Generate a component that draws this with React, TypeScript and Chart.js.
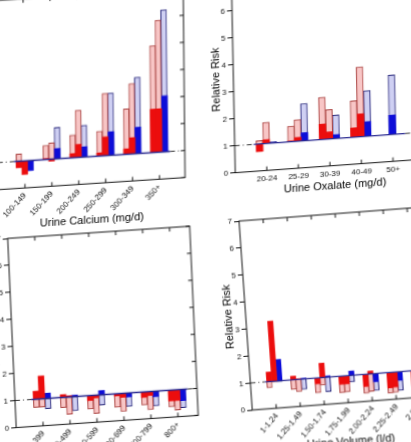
import React, { useEffect, useRef } from "react";
import { Chart, registerables } from "chart.js";

Chart.register(...registerables);
Chart.defaults.font.family = '"Liberation Sans", Arial, Helvetica, sans-serif';

// ---------- Urine calcium ----------
const calciumCats = ["100-149", "150-199", "200-249", "250-299", "300-349", "350+"];
const calciumLightA = [1.27, 1.52, 1.84, 1.92, 2.68, 4.95];
const calciumLightB = [0.9, 1.6, 2.74, 3.3, 3.6, 5.88];
const calciumLightC = [0.95, 2.16, 2.18, 3.3, 3.82, 6.25];
const calciumDarkA = [0.76, 1.03, 1.15, 1.12, 1.2, 2.6];
const calciumDarkB = [0.5, 0.93, 1.48, 1.69, 1.6, 2.6];
const calciumDarkC = [0.63, 1.38, 1.38, 1.87, 1.97, 3.07];

// ---------- Urine oxalate ----------
const oxalateCats = ["20-24", "25-29", "30-39", "40-49", "50+"];
const oxalateLightA = [1.12, 1.58, 2.56, 2.35, null];
const oxalateLightB = [1.78, 1.8, 2.09, 3.59, null];
const oxalateLightC = [1.05, 2.38, 1.87, 2.69, 3.2];
const oxalateDarkA = [0.72, 1.03, 1.57, 1.35, null];
const oxalateDarkB = [1.14, 1.14, 1.26, 1.85, null];
const oxalateDarkC = [1.02, 1.3, 1.14, 1.54, 1.72];

// ---------- Urine citrate ----------
const citrateCats = ["300-399", "400-499", "500-599", "600-699", "700-799", "800+"];
const citrateLightA = [0.7, 0.62, 0.5, 0.5, 0.52, 0.38];
const citrateLightB = [0.7, 0.36, 0.32, 0.33, 0.33, 0.25];
const citrateLightC = [0.62, 0.48, 0.62, 0.5, 0.45, 0.32];
const citrateDarkA = [1.29, 1.1, 0.82, 0.92, 0.8, 0.6];
const citrateDarkB = [1.84, 1.04, 0.9, 0.85, 0.85, 0.6];
const citrateDarkC = [1.19, 1.05, 1.15, 0.85, 0.8, 0.58];

// ---------- Urine volume ----------
const volumeCats = ["1-1.24", "1.25-1.49", "1.50-1.74", "1.75-1.99", "2.00-2.24", "2.25-2.49", "2.50+"];
const volumeLightA = [0.77, 0.64, 0.45, 0.38, 0.3, 0.23, 0.25];
const volumeLightB = [0.97, 0.55, 0.72, 0.4, 0.35, 0.25, 0.28];
const volumeLightC = [0.97, 0.62, 0.47, 0.75, 0.37, 0.31, 0.33];
const volumeDarkA = [1.35, 1.13, 0.78, 0.7, 0.55, 0.43, 0.45];
const volumeDarkB = [3.22, 1.02, 1.53, 0.7, 1.1, 0.45, 0.5];
const volumeDarkC = [1.79, 1.03, 1.05, 1.16, 0.7, 0.68, 0.7];

const yTicks = [0, 1, 2, 3, 4, 5, 6, 7];

// styles
const PINK_FILL = "#f8c6c6";
const PINK_EDGE = "#a9403e";
const RED = "#ec0d0d";
const LBLUE_FILL = "#cfd0f3";
const BLUE_EDGE = "#232378";
const BLUE = "#0d0dd8";

const AXIS_W = 40;
const TOP_PAD = 15;
const PLOT_H = 189;
const RIGHT_PAD = 12;
const BOTTOM_PAD = 2;
const Y_TITLE_PAD = AXIS_W - 17 - 6.6;
const GROUP_FRACTION = 0.64;

const framePlugin = {
  id: "frame",
  afterDatasetsDraw(chart: any, _args: any, opts: any) {
    const { ctx, chartArea: ca } = chart;
    const xs = chart.scales.x;
    const ys = chart.scales.y;
    const n = opts.count;
    const y1 = ys.getPixelForValue(1);
    const xa = xs.getPixelForValue(1 - 0.4);
    const xb = xs.getPixelForValue(n + 0.4);
    ctx.save();
    ctx.strokeStyle = "#333";
    ctx.lineWidth = 1;
    ctx.setLineDash([5, 3, 1, 3]);
    ctx.beginPath();
    ctx.moveTo(ca.left, y1);
    ctx.lineTo(xa, y1);
    ctx.moveTo(xb, y1);
    ctx.lineTo(ca.right, y1);
    ctx.stroke();
    ctx.setLineDash([]);
    ctx.strokeStyle = "#28288f";
    ctx.lineWidth = 1.3;
    ctx.beginPath();
    ctx.moveTo(xa, y1);
    ctx.lineTo(xb, y1);
    ctx.stroke();
    ctx.strokeStyle = "#111";
    ctx.lineWidth = 1;
    ctx.strokeRect(ca.left, ca.top, ca.right - ca.left, ca.bottom - ca.top);
    ctx.beginPath();
    for (let i = 1; i <= n; i++) {
      const x = xs.getPixelForValue(i);
      ctx.moveTo(x, ca.bottom);
      ctx.lineTo(x, ca.bottom - 4);
      ctx.moveTo(x, ca.top);
      ctx.lineTo(x, ca.top + 4);
    }
    for (const v of yTicks) {
      const y = ys.getPixelForValue(v);
      ctx.moveTo(ca.right, y);
      ctx.lineTo(ca.right - 4, y);
    }
    ctx.stroke();
    ctx.restore();
  },
};

type Layout = {
  left: number;
  top: number;
  b: number;
  c: number;
  xMax: number;
  plotW: number;
  xAxisH: number;
  rot: number;
};

type Spec = {
  id: string;
  cats: string[];
  la: (number | null)[];
  lb: (number | null)[];
  lc: (number | null)[];
  da: (number | null)[];
  db: (number | null)[];
  dc: (number | null)[];
  xTitle: string;
  layout: Layout;
};

const panels: Spec[] = [
  {
    id: "ca", cats: calciumCats,
    la: calciumLightA, lb: calciumLightB, lc: calciumLightC,
    da: calciumDarkA, db: calciumDarkB, dc: calciumDarkC,
    xTitle: "Urine Calcium (mg/d)",
    layout: { left: -44, top: -12.2, b: -0.065, c: 0.01, xMax: 6.95, plotW: 187, xAxisH: 43.6, rot: 45 },
  },
  {
    id: "ox", cats: oxalateCats,
    la: oxalateLightA, lb: oxalateLightB, lc: oxalateLightC,
    da: oxalateDarkA, db: oxalateDarkB, dc: oxalateDarkC,
    xTitle: "Urine Oxalate (mg/d)",
    layout: { left: 190.5, top: -28.1, b: -0.072, c: 0.02, xMax: 6.3, plotW: 198.5, xAxisH: 27.4, rot: 0 },
  },
  {
    id: "ci", cats: citrateCats,
    la: citrateLightA, lb: citrateLightB, lc: citrateLightC,
    da: citrateDarkA, db: citrateDarkB, dc: citrateDarkC,
    xTitle: "Urine Citrate (mg/d)",
    layout: { left: -33.3, top: 225.7, b: -0.067, c: 0.045, xMax: 6.75, plotW: 182, xAxisH: 45.6, rot: 45 },
  },
  {
    id: "vo", cats: volumeCats,
    la: volumeLightA, lb: volumeLightB, lc: volumeLightC,
    da: volumeDarkA, db: volumeDarkB, dc: volumeDarkC,
    xTitle: "Urine Volume (l/d)",
    layout: { left: 197.6, top: 209.3, b: -0.076, c: 0.07, xMax: 8, plotW: 192, xAxisH: 45.8, rot: 45 },
  },
];

function makeDataset(label: string, vals: (number | null)[], stack: string, bg: string, edge: string, bw: number, thick: number) {
  return {
    label,
    stack,
    data: vals.map((v, i) => ({ x: i + 1, y: v == null ? null : [1, v] })),
    backgroundColor: bg,
    borderColor: edge,
    borderWidth: bw,
    borderSkipped: false,
    barThickness: thick,
    skipNull: true,
  };
}

function Panel({ spec }: { spec: Spec }) {
  const ref = useRef<HTMLCanvasElement | null>(null);
  const L = spec.layout;
  const W = AXIS_W + L.plotW + RIGHT_PAD;
  const H = TOP_PAD + PLOT_H + L.xAxisH + BOTTOM_PAD;

  useEffect(() => {
    if (!ref.current) return;
    const spacing = L.plotW / L.xMax;
    const thick = (spacing * GROUP_FRACTION) / 3;
    const cats = spec.cats;
    // Chart.js paints the first dataset on top, so the dark series come first.
    const chart = new Chart(ref.current, {
      type: "bar",
      data: {
        datasets: [
          makeDataset("A", spec.da, "A", RED, RED, 0, thick),
          makeDataset("B", spec.db, "B", RED, RED, 0, thick),
          makeDataset("C", spec.dc, "C", BLUE, BLUE, 0, thick),
          makeDataset("A light", spec.la, "A", PINK_FILL, PINK_EDGE, 1, thick),
          makeDataset("B light", spec.lb, "B", PINK_FILL, PINK_EDGE, 1, thick),
          makeDataset("C light", spec.lc, "C", LBLUE_FILL, BLUE_EDGE, 1, thick),
        ],
      } as any,
      options: {
        responsive: false,
        animation: false,
        devicePixelRatio: 1,
        layout: { padding: { left: Y_TITLE_PAD, top: TOP_PAD, right: RIGHT_PAD, bottom: BOTTOM_PAD } },
        plugins: {
          legend: { display: false },
          tooltip: { enabled: false },
          frame: { count: cats.length },
        } as any,
        scales: {
          x: {
            type: "linear",
            min: 0,
            max: L.xMax,
            offset: false,
            ticks: {
              stepSize: 1,
              includeBounds: false,
              autoSkip: false,
              maxRotation: L.rot,
              minRotation: L.rot,
              font: { size: 8 },
              color: "#111",
              padding: 3,
              callback: (v: any) => (Number.isInteger(v) && v >= 1 && v <= cats.length ? cats[v - 1] : ""),
            },
            grid: { display: false, drawTicks: false },
            border: { display: false },
            title: { display: true, text: spec.xTitle, font: { size: 11 }, color: "#000", padding: 0 },
            afterFit: (s: any) => {
              s.height = L.xAxisH;
            },
          },
          y: {
            min: 0,
            max: 7,
            stacked: false,
            ticks: { stepSize: 1, font: { size: 8 }, color: "#111", padding: 2 },
            grid: { display: true, drawOnChartArea: false, drawTicks: true, tickLength: 5, color: "#111" },
            border: { display: false },
            title: { display: true, text: "Relative Risk", font: { size: 11 }, color: "#000", padding: 0 },
            afterFit: (s: any) => {
              s.width = AXIS_W - Y_TITLE_PAD;
            },
          },
        } as any,
      },
      plugins: [framePlugin as any],
    });
    return () => chart.destroy();
  }, [spec]);

  return (
    <div
      style={{
        position: "absolute",
        left: L.left,
        top: L.top,
        width: W,
        height: H,
        transform: `matrix(1, ${L.b}, ${L.c}, 1, 0, 0)`,
        transformOrigin: "0 0",
      }}
    >
      <canvas ref={ref} width={W} height={H} style={{ display: "block", width: W, height: H }} />
    </div>
  );
}

export default function App() {
  return (
    <div
      style={{
        position: "absolute",
        left: 0,
        top: 0,
        width: 411,
        height: 442,
        overflow: "hidden",
        background: "#fff",
      }}
    >
      {panels.map((p) => (
        <Panel key={p.id} spec={p} />
      ))}
    </div>
  );
}
